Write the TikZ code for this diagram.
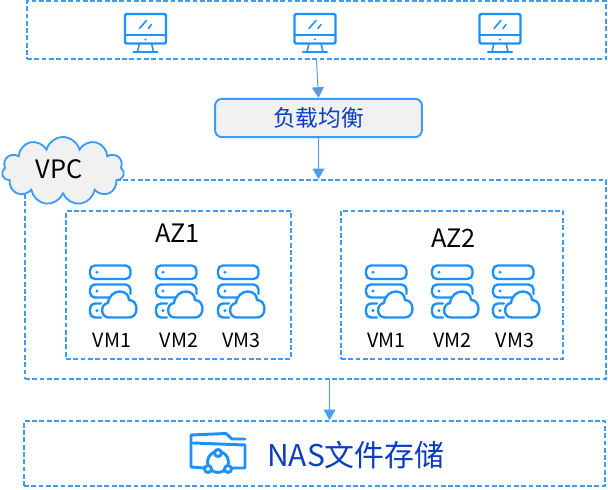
\documentclass[tikz,border=0pt]{standalone}
\usepackage{fontspec}
\setmainfont{Noto Sans CJK SC}
\usepackage{xcolor}
\usetikzlibrary{shapes.symbols, arrows.meta}
\definecolor{iconblue}{RGB}{30,144,255}
\definecolor{dashblue}{RGB}{62,155,245}
\definecolor{arrowblue}{RGB}{72,158,245}
\definecolor{mutedblue}{RGB}{91,155,213}
\definecolor{textblue}{RGB}{10,60,196}
\definecolor{panelgray}{RGB}{241,241,241}

\tikzset{
    iconline/.style={draw=iconblue, line width=1.7pt, line cap=round, line join=round},
    pics/monitoricon/.style={code={
        \draw[iconline, rounded corners=1pt] (-20.5,-18.5) rectangle (20.5,11);
        \draw[iconline] (-20.5,2.5) -- (20.5,2.5);
        \draw[iconline, line width=1.1pt] (-6,-4) -- (1,-12);
        \draw[iconline, line width=1.1pt] (3,-4) -- (6,-8);
        \fill[iconblue] (0,7) circle (1.2);
        \draw[iconline, line width=1.1pt] (-6,11) -- (-8,19);
        \draw[iconline, line width=1.1pt] (6,11) -- (8,19);
        \draw[iconline] (-12,19.5) -- (12,19.5);
    }},
    pics/servericon/.style={code={
        \draw[iconline, rounded corners=3.5pt] (-19,-25.5) rectangle (21.5,-12);
        \draw[iconline, rounded corners=3.5pt] (4,6.5) -- (-19,6.5) -- (-19,-6.5) -- (21.5,-6.5) -- (21.5,3);
        \draw[iconline, rounded corners=3.5pt] (-8,12.5) -- (-19,12.5) -- (-19,26.5) -- (-8,26.5);
        \fill[iconblue] (-12,-18.7) circle (1.7);
        \fill[iconblue] (-12,0) circle (1.7);
        \fill[iconblue] (-12,19.7) circle (1.7);
        \draw[iconline, fill=white] (0,26.5) .. controls (-9,26.5) and (-9,13) .. (-1,12)
            .. controls (0,4) and (6,0.5) .. (11,0.5)
            .. controls (16,0.5) and (20,4) .. (20,9)
            .. controls (30,9) and (30,26.5) .. (20,26.5) -- cycle;
    }},
    pics/foldericon/.style={code={
        \draw[iconline, line width=2.1pt] (-14,13) -- (-27,12) -- (-27,-20) -- (8,-21.5) -- (14,-16) -- (27,-16);
        \draw[iconline, line width=2.1pt] (-25,-12) -- (27,-10) -- (27,13) -- (14,13);
        \draw[iconline, line width=2.1pt] (0,7) circle (10.5);
        \draw[iconline, line width=2.1pt, fill=white] (0,-2) circle (3.5);
        \draw[iconline, line width=2.1pt, fill=white] (-10,14) circle (3.5);
        \draw[iconline, line width=2.1pt, fill=white] (10,14) circle (3.5);
    }},
}

\begin{document}
\begin{tikzpicture}[
    x=0.025cm, y=-0.025cm,
    dashbox/.style={rectangle, draw=dashblue, line width=1.4pt, dash pattern=on 3.4pt off 1.8pt, inner sep=0pt},
    flow/.style={draw=arrowblue, line width=0.7pt, -{Triangle[length=7.5pt,width=8.5pt,fill=arrowblue]}},
    flowmuted/.style={draw=mutedblue, line width=0.7pt, -{Triangle[length=7.5pt,width=8.5pt,fill=mutedblue]}},
    vmlabel/.style={font=\fontsize{14}{15}\selectfont, inner sep=0pt},
    azlabel/.style={font=\fontsize{18}{20}\selectfont, inner sep=0pt}
]
    \useasboundingbox (0,0) rectangle (608,490);

    % client row
    \node[dashbox, minimum width=14.47cm, minimum height=1.45cm] (clients) at (316.5,30) {};
    \pic at (145.5,32.5) {monitoricon};
    \pic at (315,32.5) {monitoricon};
    \pic at (500,32.5) {monitoricon};

    % load balancer
    \node[rectangle, draw=dashblue, line width=1.4pt, fill=panelgray, rounded corners=5pt,
          minimum width=5.17cm, minimum height=0.96cm, inner sep=0pt, text=textblue,
          font=\fontsize{16.1}{20}\selectfont] (lb) at (318.5,118) {负载均衡};

    % vpc and zones
    \node[dashbox, minimum width=14.52cm, minimum height=4.97cm] (vpc) at (315.5,279.5) {};
    \node[cloud, draw=dashblue, line width=1.3pt, fill=panelgray, cloud puffs=11, aspect=1.9,
          minimum width=3.05cm, minimum height=1.7cm, inner sep=0pt] (vpccloud) at (63,171) {};
    \node[inner sep=0pt, font=\fontsize{18}{20}\selectfont] (vpctext) at (59,169) {VPC};

    \node[dashbox, minimum width=5.62cm, minimum height=3.7cm] (azone) at (178.5,285) {};
    \node[dashbox, minimum width=5.55cm, minimum height=3.7cm] (aztwo) at (452,285) {};
    \node[azlabel] (azonetext) at (177.5,233) {AZ1};
    \node[azlabel] (aztwotext) at (453.5,238) {AZ2};

    \foreach \px in {109,175,237,385,451,512}
        \pic at (\px,291) {servericon};

    \node[vmlabel] (vma) at (112,340) {VM1};
    \node[vmlabel] (vmb) at (179,340) {VM2};
    \node[vmlabel] (vmc) at (241.5,340) {VM3};
    \node[vmlabel] (vmd) at (386.5,340) {VM1};
    \node[vmlabel] (vme) at (452.5,340) {VM2};
    \node[vmlabel] (vmf) at (515,340) {VM3};

    % storage
    \node[dashbox, minimum width=14.52cm, minimum height=1.62cm] (nas) at (314.5,453.5) {};
    \pic at (218,455) {foldericon};
    \node[text=textblue, inner sep=0pt, font=\fontsize{21.3}{24}\selectfont] (nastext) at (356,455) {NAS文件存储};

    \draw[flowmuted] (clients.south) -- (lb.north);
    \draw[flow] (lb.south) -- (lb.south |- vpc.north);
    \draw[flow] ([xshift=0.35cm]vpc.south) -- ([xshift=0.375cm]nas.north);
\end{tikzpicture}
\end{document}
